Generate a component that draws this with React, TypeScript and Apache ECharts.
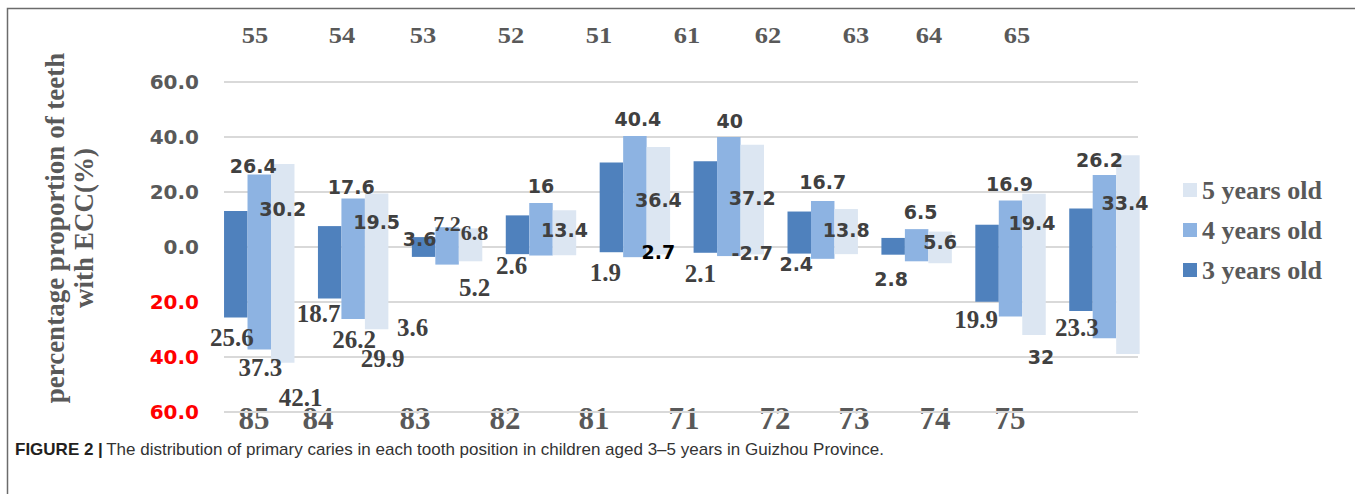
import React, { useEffect, useRef } from "react";
import * as echarts from "echarts";

// ---------- data ----------
const upperTeeth = ["55", "54", "53", "52", "51", "61", "62", "63", "64", "65"];
const lowerTeeth = ["85", "84", "83", "82", "81", "71", "72", "73", "74", "75"];
const legendOrder = ["5 years old", "4 years old", "3 years old"];
const ageNames = ["3 years old", "4 years old", "5 years old"];

// upper jaw (drawn above zero)
const upper3 = [13.1, 7.6, 3.6, 11.5, 30.7, 31.2, 12.9, 3.3, 8.1, 14.0];
const upper4 = [26.4, 17.6, 7.2, 16, 40.4, 40, 16.7, 6.5, 16.9, 26.2];
const upper5 = [30.2, 19.5, 6.8, 13.4, 36.4, 37.2, 13.8, 5.6, 19.4, 33.4];
// lower jaw (drawn below zero)
const lower3 = [25.6, 18.7, 3.6, 2.6, 1.9, 2.1, 2.4, 2.8, 19.9, 23.3];
const lower4 = [37.3, 26.2, 6.4, 3.1, 3.7, 3.3, 4.3, 5.2, 25.3, 33.2];
const lower5 = [42.1, 29.9, 5.2, 3.0, 2.7, 2.7, 2.6, 5.9, 32, 38.9];

const yMin = -60;
const yMax = 60;
const yStep = 20;

// ---------- label layout (style, dx, dy) ----------
type Spec = [string, number, number] | null;
const LBL_UP3: Spec[] = [null, null, ["s", -4, 2], null, null, null, null, null, null, null];
const LBL_UP4: Spec[] = [["s", -6, -8], ["s", -2, -12], ["q", 0, -4], ["s", 0, -17], ["s", 3, -17], ["s", 1, -16], ["s", 0, -19], ["s", 4, -17], ["s", -1, -17], ["s", -5, -15]];
const LBL_UP5: Spec[] = [["s", 0, 45], ["s", 0, 29], ["q", 4, 4], ["s", 0, 20], ["s", 0, 53], ["s", 0, 53], ["s", 0, 21], ["s", 0, 10], ["s", -2, 29], ["s", -3, 48]];
const LBL_DN3: Spec[] = [["r", -4, 20], ["r", -11, 15], ["r", -11, 71], ["r", -6, 11], ["r", -6, 20], ["r", -5, 21], ["s", -3, 10], ["s", -2, 24], ["r", -11, 18], ["r", -4, 16]];
const LBL_DN4: Spec[] = [["r", 1, 18], ["r", 1, 20], null, null, null, null, null, null, null, null];
const LBL_DN5: Spec[] = [["r", 18, 35], ["r", 6, 29], ["r", 4, 26], null, ["k", 0, -2], ["n", 0, -1], null, null, ["s", 7, 22], null];

const topLabelX = [255, 342, 423, 511, 599, 687, 768, 856, 929, 1017];
const bottomLabelX = [254, 318, 415, 505, 594, 684, 775, 854, 935, 1010];

const COLORS = ["#4f81bd", "#8db3e2", "#dce6f2"];
const SERIF = "'Liberation Serif', 'Times New Roman', serif";
const SANS = "'DejaVu Sans', Verdana, sans-serif";

function fontFor(kind: string) {
  if (kind === "r") return { fontFamily: SERIF, fontWeight: "bold", fontSize: 25, color: "#404040" };
  if (kind === "q") return { fontFamily: SERIF, fontWeight: "bold", fontSize: 22, color: "#404040" };
  if (kind === "k") return { fontFamily: SANS, fontWeight: "bold", fontSize: 19, color: "#000000" };
  return { fontFamily: SANS, fontWeight: "bold", fontSize: 19, color: "#404040" };
}

function buildData(values: number[], sign: number, specs: Spec[]) {
  return values.map((v, i) => {
    const s = specs[i];
    const item: any = { value: sign * v };
    if (s) {
      item.minus = s[0] === "n";
      item.label = {
        show: true,
        position: sign > 0 ? "top" : "bottom",
        distance: 0,
        align: "center",
        verticalAlign: "middle",
        offset: [s[1], s[2]],
        ...fontFor(s[0]),
      };
    } else {
      item.label = { show: false };
    }
    return item;
  });
}

export default function App() {
  const ref = useRef<HTMLDivElement>(null);

  useEffect(() => {
    if (!ref.current) return;
    const chart = echarts.init(ref.current, undefined, { renderer: "svg" });

    const labelFormatter = (p: any) => (p.data && p.data.minus ? "-" : "") + String(Math.abs(p.value));

    const mk = (name: string, values: number[], sign: number, specs: Spec[], idx: number) => ({
      type: "bar",
      name,
      xAxisIndex: 0,
      yAxisIndex: 0,
      stack: "s" + idx,
      barCategoryGap: "25%",
      barGap: "0%",
      itemStyle: { color: COLORS[idx] },
      label: { formatter: labelFormatter },
      data: buildData(values, sign, specs),
    });

    const series = [
      mk(ageNames[0], upper3, 1, LBL_UP3, 0),
      mk(ageNames[0], lower3, -1, LBL_DN3, 0),
      mk(ageNames[1], upper4, 1, LBL_UP4, 1),
      mk(ageNames[1], lower4, -1, LBL_DN4, 1),
      mk(ageNames[2], upper5, 1, LBL_UP5, 2),
      mk(ageNames[2], lower5, -1, LBL_DN5, 2),
    ];

    const graphic: any[] = [
      {
        type: "rect",
        shape: { x: 7.5, y: 8.5, width: 1500, height: 700 },
        style: { fill: "none", stroke: "#6b6b6b", lineWidth: 1.5 },
        silent: true,
        z: -10,
      },
      {
        type: "text",
        x: 69.5,
        y: 228,
        rotation: Math.PI / 2,
        style: {
          text: "percentage proportion of teeth\nwith ECC(%)",
          fontFamily: SERIF,
          fontWeight: "bold",
          fontSize: 27,
          lineHeight: 29,
          fill: "#595959",
          align: "center",
          verticalAlign: "middle",
        },
      },
      {
        type: "text",
        x: 15,
        y: 449,
        style: {
          text: "{b|FIGURE 2 |} {n|The distribution of primary caries in each tooth position in children aged 3–5 years in Guizhou Province.}",
          verticalAlign: "middle",
          align: "left",
          rich: {
            b: { fontFamily: "'Liberation Sans', Arial, sans-serif", fontWeight: "bold", fontSize: 17, fill: "#231f20" },
            n: { fontFamily: "'Liberation Sans', Arial, sans-serif", fontSize: 17, fill: "#333333" },
          },
        },
      },
    ];
    upperTeeth.forEach((t, i) => {
      graphic.push({
        type: "text",
        x: topLabelX[i],
        y: 35,
        scaleX: 1.1,
        style: { text: t, fontFamily: SERIF, fontWeight: "bold", fontSize: 24, fill: "#595959", align: "center", verticalAlign: "middle" },
      });
    });
    lowerTeeth.forEach((t, i) => {
      graphic.push({
        type: "text",
        x: bottomLabelX[i],
        y: 418,
        style: { text: t, fontFamily: SERIF, fontWeight: "bold", fontSize: 31, fill: "#595959", align: "center", verticalAlign: "middle" },
      });
    });

    chart.setOption({
      animation: false,
      backgroundColor: "#ffffff",
      grid: [
        { left: 212.3, top: 82, width: 939.1, height: 330, containLabel: false },
        { left: 224, top: 82, width: 914, height: 330, containLabel: false },
      ],
      xAxis: [
        { type: "category", gridIndex: 0, data: upperTeeth, show: false },
        { type: "value", gridIndex: 1, min: 0, max: 1, show: false },
      ],
      yAxis: [
        { type: "value", gridIndex: 0, min: yMin, max: yMax, interval: yStep, show: false },
        {
          type: "value",
          gridIndex: 1,
          min: yMin,
          max: yMax,
          interval: yStep,
          axisLine: { show: false },
          axisTick: { show: false },
          splitLine: { show: true, lineStyle: { color: "#d9d9d9", width: 2 } },
          axisLabel: {
            margin: 25,
            formatter: (v: number) => (v < 0 ? `{r|${Math.abs(v).toFixed(1)}}` : `{g|${v.toFixed(1)}}`),
            rich: {
              r: { color: "#ff0000", fontFamily: SANS, fontWeight: "bold", fontSize: 20 },
              g: { color: "#595959", fontFamily: SANS, fontWeight: "bold", fontSize: 20 },
            },
          },
        },
      ],
      legend: {
        data: legendOrder,
        orient: "vertical",
        left: 1178,
        top: 172,
        itemWidth: 14,
        itemHeight: 14,
        itemGap: 14,
        icon: "rect",
        selectedMode: false,
        textStyle: { fontFamily: SERIF, fontWeight: "bold", fontSize: 26, color: "#595959" },
      },
      series,
      graphic,
    });

    return () => chart.dispose();
  }, []);

  return <div ref={ref} style={{ position: "absolute", left: 0, top: 0, width: 1355, height: 494 }} />;
}
